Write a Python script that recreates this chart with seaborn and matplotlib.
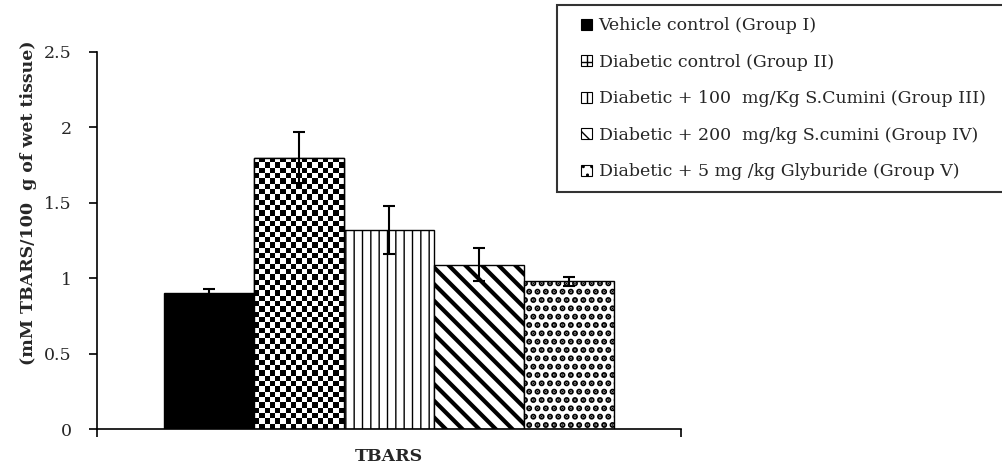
import matplotlib
matplotlib.use("Agg")
import matplotlib.pyplot as plt
from matplotlib.patches import Patch, Rectangle
from matplotlib.legend_handler import HandlerPatch
import seaborn as sb
import pandas as pd
import numpy as np

# data
groups = ["Vehicle control (Group I)",
          "Diabetic control (Group II)",
          "Diabetic + 100  mg/Kg S.Cumini (Group III)",
          "Diabetic + 200  mg/kg S.cumini (Group IV)",
          "Diabetic + 5 mg /kg Glyburide (Group V)"]
means = [0.90, 1.80, 1.32, 1.09, 0.98]
errors = [0.03, 0.17, 0.16, 0.11, 0.03]
test = ["TBARS"] * 5
yticks = [0, 0.5, 1, 1.5, 2, 2.5]
ytick_labels = ["0", "0.5", "1", "1.5", "2", "2.5"]

# look of each group: face, hatch, hatch linewidth
faces = ["black", "white", "white", "white", "white"]
hatches = [None, "checker", "||", "\\\\", ".."]
hatch_lw = [1.0, 1.0, 1.0, 3.0, 3.0]
legend_hatch = [None, "++", "||", "\\\\", ".."]

sb.set_theme(style="white")
plt.rcParams["font.family"] = ["DejaVu Serif", "Liberation Serif"]

df = pd.DataFrame({"test": test, "group": groups, "value": means})

fig = plt.figure(figsize=(10.03, 4.72), dpi=100)
ax = fig.add_axes([97 / 1003, 1 - 429 / 472, 584 / 1003, 377 / 472])

sb.barplot(data=df, x="test", y="value", hue="group", hue_order=groups,
           palette=faces, edgecolor="black", linewidth=1.0, errorbar=None,
           saturation=1, legend=False, ax=ax)

ax.set_xlim(-0.52, 0.52)
ax.set_ylim(0, 2.5)

bar_containers = list(ax.containers)
for i, cont in enumerate(bar_containers):
    for bar in cont:
        bar.set_facecolor(faces[i])
        bar.set_edgecolor("black")
        h = hatches[i]
        if h is not None and h != "checker":
            bar.set_hatch(h)
            if hasattr(bar, "set_hatch_linewidth"):
                bar.set_hatch_linewidth(hatch_lw[i])
        x = bar.get_x() + bar.get_width() / 2
        ax.errorbar(x, bar.get_height(), yerr=errors[i], color="black",
                    elinewidth=1.5, capsize=4, capthick=1.5, zorder=5)

# checkerboard texture for group II, clipped to its bar
fig.canvas.draw()
for i, cont in enumerate(bar_containers):
    if hatches[i] != "checker":
        continue
    for bar in cont:
        x0, w, hgt = bar.get_x(), bar.get_width(), bar.get_height()
        p0 = ax.transData.transform((x0, 0))
        p1 = ax.transData.transform((x0 + w, hgt))
        ncol = max(2, int(round(abs(p1[0] - p0[0]) / 5.3)))
        nrow = max(2, int(round(abs(p1[1] - p0[1]) / 5.3)))
        r, c = np.indices((nrow, ncol))
        tex = ((r + c) % 2).astype(float)
        im = ax.imshow(tex, cmap="gray_r", extent=(x0, x0 + w, 0, hgt),
                       aspect="auto", interpolation="nearest", zorder=2)
        im.set_clip_path(bar)
        bar.set_zorder(1)
        # outline on top of the texture
        ax.add_patch(Rectangle((x0, 0), w, hgt, fill=False,
                               edgecolor="black", linewidth=1.0, zorder=3))

ax.set_xlim(-0.52, 0.52)
ax.set_ylim(0, 2.5)

# axes styling
sb.despine(ax=ax)
for s in ["left", "bottom"]:
    ax.spines[s].set_color("black")
    ax.spines[s].set_linewidth(1.2)
ax.set_yticks(yticks)
ax.set_yticklabels(ytick_labels, fontsize=12.5)
ax.tick_params(axis="y", direction="out", length=6, width=1.2, color="black",
               left=True, pad=12)
ax.set_xticks([-0.52, 0.52], minor=True)
ax.tick_params(axis="x", which="minor", direction="out", length=6, width=1.2,
               color="black", bottom=True)
ax.set_xticks([0])
ax.set_xticklabels([""])
ax.tick_params(axis="x", which="major", length=0)

ax.set_xlabel("TBARS", fontsize=12.5, fontweight="bold", labelpad=4)
ax.set_ylabel("(mM TBARS/100  g of wet tissue)", fontsize=12.5,
              fontweight="bold")
ax.yaxis.set_label_coords(-0.103, 0.6)


def square_right(legend, orig_handle, xdescent, ydescent, width, height, fontsize):
    # small square handle sitting at the right end of the handle box
    sq = height
    return Rectangle((-xdescent + width - sq, -ydescent), sq, sq)


# legend, its frame runs off the right edge as in the reference
handles = []
for i, g in enumerate(groups):
    handles.append(Patch(facecolor=faces[i], edgecolor="black",
                         hatch=legend_hatch[i], linewidth=0.8))
leg = ax.legend(handles, groups, loc="upper left", mode="expand",
                bbox_to_anchor=(557 / 1003, 1 - 10 / 472, 460 / 1003, 0.01),
                bbox_transform=fig.transFigure, frameon=True, fancybox=False,
                fontsize=12.5, labelspacing=1.12, handlelength=1.3,
                handleheight=0.6, handletextpad=0.4, borderpad=0.7,
                borderaxespad=0,
                handler_map={Patch: HandlerPatch(patch_func=square_right)})
leg.get_frame().set_edgecolor("black")
leg.get_frame().set_linewidth(1.5)

fig.savefig("out.png", dpi=100, facecolor="white")
